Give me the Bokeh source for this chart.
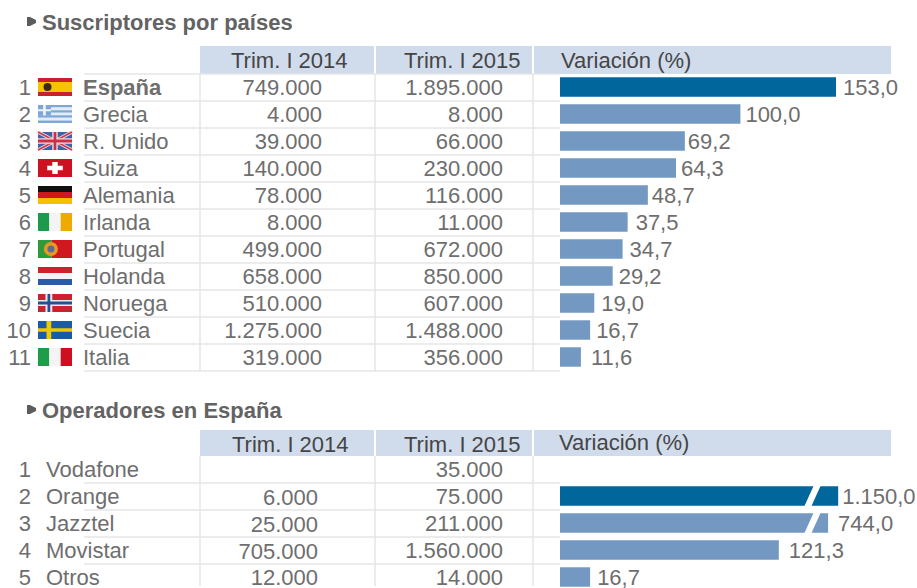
from bokeh.plotting import figure
from bokeh.models import Range1d
from bokeh.core.properties import value
from bokeh.embed import file_html
from bokeh.resources import INLINE

W, H = 917, 588
FONT = value("Liberation Sans")

# ---- data -------------------------------------------------------------
title_a = "Suscriptores por países"
title_b = "Operadores en España"
col_2014 = "Trim. I 2014"
col_2015 = "Trim. I 2015"
col_var = "Variación (%)"

countries = ["España", "Grecia", "R. Unido", "Suiza", "Alemania", "Irlanda",
             "Portugal", "Holanda", "Noruega", "Suecia", "Italia"]
country_2014 = [749000, 4000, 39000, 140000, 78000, 8000, 499000, 658000, 510000, 1275000, 319000]
country_2015 = [1895000, 8000, 66000, 230000, 116000, 11000, 672000, 850000, 607000, 1488000, 356000]
country_var = [153.0, 100.0, 69.2, 64.3, 48.7, 37.5, 34.7, 29.2, 19.0, 16.7, 11.6]

operators = ["Vodafone", "Orange", "Jazztel", "Movistar", "Otros"]
operator_2014 = [None, 6000, 25000, 705000, 12000]
operator_2015 = [35000, 75000, 211000, 1560000, 14000]
operator_var = [None, 1150.0, 744.0, 121.3, 16.7]
# length at which the two off-scale bars are cut by the break mark
operator_cut = [None, 154.2, 148.6, 121.3, 16.7]

DARK, LIGHT = "#00669b", "#7399c2"
TXT, HEAD, BAND, GRID = "#6e6e6e", "#454545", "#d0dcec", "#e6e6e6"
SZ = 22


def es(v, dec=0):
    if v is None:
        return ""
    s = f"{v:,.{dec}f}"
    return s.replace(",", "X").replace(".", ",").replace("X", ".")


# half-pixel nudge so that the layout lands on the reference's pixels
X0, Y0 = 0.5, 0.5
p = figure(width=W, height=H, x_range=Range1d(X0, W + X0), y_range=Range1d(H + Y0, Y0),
           x_axis_type=None, y_axis_type=None, toolbar_location=None,
           output_backend="svg", min_border=0, outline_line_color=None)
p.grid.visible = False

# bar scale: value 0 sits on x=560, 1.804 px per point
PX = 1.804
p.extra_x_ranges["pct"] = Range1d((X0 - 560) / PX, (W + X0 - 560) / PX)
# row scales: row index -> page y
ROW = 27.0
p.extra_y_ranges["rows_a"] = Range1d((H + Y0 - 87) / ROW, (Y0 - 87) / ROW)
p.extra_y_ranges["rows_b"] = Range1d((H + Y0 - 469) / ROW, (Y0 - 469) / ROW)


def txt(x, y, s, size=SZ, color=TXT, align="left", style="normal", rng="default"):
    p.text(x=x, y=y, text=s, text_font=FONT, text_font_size=f"{size}px", text_color=color,
           text_align=align, text_baseline="middle", text_font_style=style, y_range_name=rng)


def frame(top, bottom, band_bottom, rules):
    for a, b in [(200, 374), (376, 532), (534, 891)]:
        p.quad(left=a, right=b, top=top, bottom=band_bottom, fill_color=BAND, line_color=None)
    for x in (200, 375, 533):
        p.segment(x, band_bottom, x, bottom, line_color=GRID, line_width=1.5)
    for i in rules:
        p.segment(84, i, 560, i, line_color=GRID, line_width=1.5)


def bullet(y):
    p.patch([27, 30, 36, 36, 30, 27], [y - 5, y - 5, y - 2, y + 1, y + 4, y + 4], fill_color="#5c5c5c", line_color=None)


def bar_labels(lengths, texts, rows, gaps, rng):
    p.text(x=[v + g / PX for v, g in zip(lengths, gaps)], y=rows, text=texts,
           text_font=FONT, text_font_size=f"{SZ}px", text_color=TXT, text_baseline="middle",
           x_range_name="pct", y_range_name=rng)


# ---- first table ------------------------------------------------------
bullet(22)
txt([42], [22], [title_a], style="bold", color="#636363")
frame(46, 371, 74, [74 + 27 * i for i in range(1, 12)] + [74])
txt([231, 404, 561], [60, 60, 60], [col_2014, col_2015, col_var], color=HEAD)

ra = list(range(len(countries)))
txt([31] * 11, ra, [str(i + 1) for i in ra], align="right", rng="rows_a")
txt([83], [0], [countries[0]], style="bold", rng="rows_a")
txt([83] * 10, ra[1:], countries[1:], rng="rows_a")
txt([322] * 11, ra, [es(v) for v in country_2014], align="right", rng="rows_a")
txt([503] * 11, ra, [es(v) for v in country_2015], align="right", rng="rows_a")
p.hbar(y=ra, left=0, right=country_var, height=0.72,
       fill_color=[DARK] + [LIGHT] * 10, line_color=None,
       x_range_name="pct", y_range_name="rows_a")
bar_labels(country_var, [es(v, 1) for v in country_var], ra,
           [7, 5, 3, 5, 4, 8, 7, 6, 7, 6, 10], "rows_a")


# ---- second table -----------------------------------------------------
bullet(410)
txt([42], [410], [title_b], style="bold", color="#636363")
frame(430, 586, 456, [483, 510, 537, 564])
txt([232, 404, 559], [444, 444, 442], [col_2014, col_2015, col_var], color=HEAD)

rb = list(range(len(operators)))
txt([31] * 5, rb, [str(i + 1) for i in rb], align="right", rng="rows_b")
txt([46] * 5, rb, operators, rng="rows_b")
txt([318] * 4, [1.07, 2.07, 3.07, 4.0], [es(v) for v in operator_2014[1:]], align="right", rng="rows_b")
txt([503] * 5, rb, [es(v) for v in operator_2015], align="right", rng="rows_b")
yb = rb[1:]
p.hbar(y=yb, left=0, right=operator_cut[1:], height=0.72,
       fill_color=[DARK] + [LIGHT] * 3, line_color=None,
       x_range_name="pct", y_range_name="rows_b")
bar_labels(operator_cut[1:], [es(v, 1) for v in operator_var[1:]], yb, [4, 10, 10, 7], "rows_b")
# break marks on the two off-scale bars
for yc in (496, 523):
    p.patch([804, 811, 821, 814], [yc + 11, yc + 11, yc - 11, yc - 11], fill_color="white", line_color=None)


# ---- flags ------------------------------------------------------------
FX, FW, FH = 38, 34, 18


def fl_rect(row, color, x0, y0, x1, y1):
    cy = 87 + ROW * row - FH / 2
    p.quad(left=FX + x0 * FW, right=FX + x1 * FW, top=cy + y0 * FH, bottom=cy + y1 * FH,
           fill_color=color, line_color=None)


def fl_line(row, color, x0, y0, x1, y1, w):
    cy = 87 + ROW * row - FH / 2
    p.line([FX + x0 * FW, FX + x1 * FW], [cy + y0 * FH, cy + y1 * FH], line_color=color, line_width=w)


def fl_dot(row, color, x, y, r):
    cy = 87 + ROW * row - FH / 2
    p.scatter([FX + x * FW], [cy + y * FH], size=r, fill_color=color, line_color=None)


def vbands(row, *cols):
    for i, c in enumerate(cols):
        fl_rect(row, c, i / len(cols), 0, (i + 1) / len(cols), 1)


def hbands(row, *cols):
    for i, c in enumerate(cols):
        fl_rect(row, c, 0, i / len(cols), 1, (i + 1) / len(cols))


# España
fl_rect(0, "#c8202c", 0, 0, 1, 1); fl_rect(0, "#f5c400", 0, .22, 1, .78); fl_dot(0, "#3a2a10", .28, .5, 8)
# Grecia
hbands(1, "#7ea6d6", "#e4ecf6", "#7ea6d6", "#e4ecf6", "#7ea6d6", "#e4ecf6", "#7ea6d6")
fl_rect(1, "#7ea6d6", 0, 0, .38, .58); fl_rect(1, "#eef3fa", .15, 0, .23, .58); fl_rect(1, "#eef3fa", 0, .23, .38, .35)
# R. Unido
fl_rect(2, "#3d62a8", 0, 0, 1, 1)
fl_line(2, "#f0dede", 0, 0, 1, 1, 3.5); fl_line(2, "#f0dede", 0, 1, 1, 0, 3.5)
fl_line(2, "#d03a50", 0, 0, 1, 1, 1.8); fl_line(2, "#d03a50", 0, 1, 1, 0, 1.8)
fl_rect(2, "#f0dede", .42, 0, .58, 1); fl_rect(2, "#f0dede", 0, .35, 1, .65)
fl_rect(2, "#cc3048", .46, 0, .54, 1); fl_rect(2, "#cc3048", 0, .42, 1, .58)
# Suiza
fl_rect(3, "#cf1020", 0, 0, 1, 1); fl_rect(3, "white", .42, .17, .58, .83); fl_rect(3, "white", .27, .38, .73, .62)
# Alemania
hbands(4, "#111111", "#cc1a1a", "#f5c000")
# Irlanda
vbands(5, "#1d9a4b", "#f4f4f4", "#eeaa00")
# Portugal
fl_rect(6, "#2f9a3c", 0, 0, .4, 1); fl_rect(6, "#d01820", .4, 0, 1, 1)
fl_dot(6, "#e89a20", .38, .5, 14); fl_dot(6, "#5a6a9a", .38, .5, 7)
# Holanda
hbands(7, "#cf2030", "#f4f4f4", "#2a5ba8")
# Noruega
fl_rect(8, "#cf2030", 0, 0, 1, 1); fl_rect(8, "#e8e8f0", .22, 0, .42, 1); fl_rect(8, "#e8e8f0", 0, .33, 1, .67)
fl_rect(8, "#26508f", .28, 0, .36, 1); fl_rect(8, "#26508f", 0, .42, 1, .58)
# Suecia
fl_rect(9, "#1b5aa5", 0, 0, 1, 1); fl_rect(9, "#f0c800", .25, 0, .39, 1); fl_rect(9, "#f0c800", 0, .4, 1, .6)
# Italia
vbands(10, "#1f9c4a", "#f4f4f4", "#cc1020")

open("out.html", "w").write(file_html(p, INLINE))
